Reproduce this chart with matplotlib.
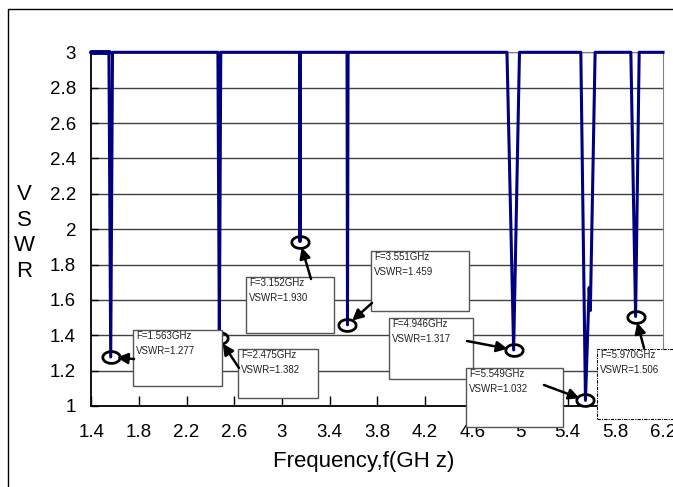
import matplotlib
matplotlib.use("Agg")
import numpy as np
import matplotlib.pyplot as plt
from matplotlib.path import Path
from matplotlib.patches import Rectangle
from matplotlib.lines import Line2D

plt.rcParams["font.family"] = ["Liberation Sans", "DejaVu Sans"]

# VSWR curve (clipped at 3 like the original sheet)
freq_ghz = [1.40, 1.548, 1.563, 1.578, 2.463, 2.475, 2.487, 3.148, 3.152, 3.156,
            3.547, 3.551, 3.556, 4.89, 4.946, 4.995, 5.51, 5.549, 5.58, 5.59,
            5.63, 5.93, 5.970, 6.00, 6.20]
vswr = [3.0, 3.0, 1.277, 3.0, 3.0, 1.382, 3.0, 3.0, 1.930, 3.0,
        3.0, 1.459, 3.0, 3.0, 1.317, 3.0, 3.0, 1.032, 1.67, 1.54,
        3.0, 3.0, 1.506, 3.0, 3.0]

# resonance points marked on the chart
res_freq = [1.563, 2.475, 3.152, 3.551, 4.946, 5.549, 5.970]
res_vswr = [1.277, 1.382, 1.930, 1.459, 1.317, 1.032, 1.506]

x_ticks = [1.4, 1.8, 2.2, 2.6, 3.0, 3.4, 3.8, 4.2, 4.6, 5.0, 5.4, 5.8, 6.2]
x_labels = ["1.4", "1.8", "2.2", "2.6", "3", "3.4", "3.8", "4.2", "4.6", "5", "5.4", "5.8", "6.2"]
y_ticks = [1.0, 1.2, 1.4, 1.6, 1.8, 2.0, 2.2, 2.4, 2.6, 2.8, 3.0]
y_labels = ["1", "1.2", "1.4", "1.6", "1.8", "2", "2.2", "2.4", "2.6", "2.8", "3"]

W, H = 673, 487


def px(x, y):
    # pixel position (top-left origin) -> figure fraction
    return (x / W, 1 - y / H)


fig = plt.figure(figsize=(W / 100, H / 100), dpi=100)
ax = fig.add_axes([91.3 / W, 1 - 406 / H, (663 - 91.3) / W, (406 - 52.3) / H])

ax.plot(freq_ghz, vswr, color="#000080", lw=2.2, zorder=3,
        solid_joinstyle="round", clip_on=False)
# the first stretch looks heavier in the original
ax.plot(freq_ghz[:2], vswr[:2], color="#000080", lw=3.5, zorder=3,
        solid_capstyle="round", clip_on=False)

ax.set_xlim(1.4, 6.2)
ax.set_ylim(1.0, 3.0)
ax.set_xticks(x_ticks)
ax.set_xticklabels(x_labels, fontsize=13.5)
ax.set_yticks(y_ticks)
ax.set_yticklabels(y_labels, fontsize=13.5)
ax.yaxis.grid(True, color="#404040", lw=1)
ax.tick_params(axis="x", direction="in", length=7, width=1, pad=13)
ax.tick_params(axis="y", direction="in", length=5, width=1, pad=11)
for s in ["left", "bottom"]:
    ax.spines[s].set_color("black")
    ax.spines[s].set_linewidth(1.3)
for s in ["top", "right"]:
    ax.spines[s].set_color("#808080")

# elliptical ring markers
t = np.linspace(0, 2 * np.pi, 60)
ring = Path(np.column_stack([np.cos(t), 0.68 * np.sin(t)]))
ax.plot(res_freq, res_vswr, ls="none", marker=ring, ms=12.5, mfc="none",
        mec="black", mew=2.0, zorder=3.5, clip_on=False)

# callout boxes (pixel layout) and arrow tails
boxes = [(133, 330, 222, 386), (238, 349, 318, 398), (246, 277, 334, 333),
         (371, 251, 469, 311), (389, 318, 473, 379), (466, 368, 563, 427),
         (597, 349, 690, 419)]
tails = [(134, 359), (239, 368), (311, 279), (372, 303), (467, 341), (544, 385), (644, 348)]

for i, (f, v) in enumerate(zip(res_freq, res_vswr)):
    x0, y0, x1, y1 = boxes[i]
    dashed = i == len(boxes) - 1
    ax.add_patch(Rectangle(px(x0, y1), (x1 - x0) / W, (y1 - y0) / H,
                           transform=fig.transFigure, fc="white",
                           ec="black" if dashed else "#555555",
                           lw=0.8 if dashed else 1.0,
                           ls=(0, (3, 1, 1, 1)) if dashed else "-",
                           zorder=4, clip_on=False))
    ax.text(*px(x0 + 3, y0 + 1), f"F={f:.3f}GHz\nVSWR={v:.3f}",
            transform=fig.transFigure, fontsize=7, color="#222222",
            ha="left", va="top", linespacing=1.65, zorder=5, clip_on=False)
    ax.annotate("", xy=(f, v), xycoords="data",
                xytext=px(*tails[i]), textcoords="figure fraction",
                arrowprops=dict(arrowstyle="-|>", color="black", lw=1.8,
                                mutation_scale=16, shrinkA=0, shrinkB=4.5),
                annotation_clip=False, zorder=6)

fig.text(*px(364, 462), "Frequency,f(GH z)", fontsize=16, ha="center", va="center")
fig.text(*px(24, 233), "V\nS\nW\nR", fontsize=16, ha="center", va="center", linespacing=1.3)

# outer chart frame
fig.add_artist(Line2D([8 / W, 8 / W, 1], [0, 1 - 9 / H, 1 - 9 / H],
                      transform=fig.transFigure, color="black", lw=1))

fig.savefig("out.png", dpi=100)
